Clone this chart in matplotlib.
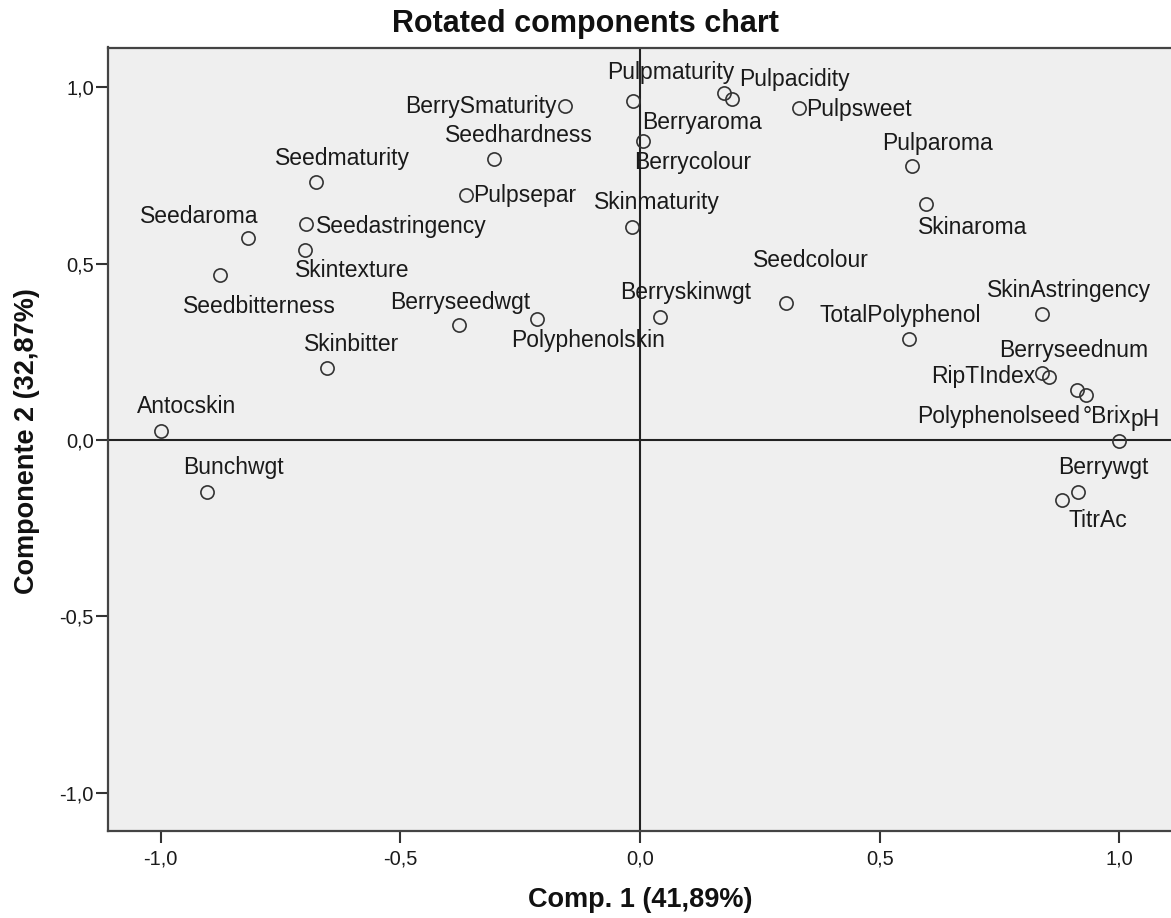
import matplotlib
matplotlib.use("Agg")
import matplotlib.pyplot as plt

plt.rcParams['font.family'] = ['Liberation Sans', 'DejaVu Sans']

# component loadings
labels = ["BerrySmaturity", "Pulpmaturity", "Pulpacidity", "Berryaroma", "Pulpsweet",
          "Berrycolour", "Seedhardness", "Pulparoma", "Seedmaturity", "Pulpsepar",
          "Skinaroma", "Skinmaturity", "Seedastringency", "Seedaroma", "Skintexture",
          "Seedbitterness", "Berryseedwgt", "Polyphenolskin", "Berryskinwgt", "Seedcolour",
          "TotalPolyphenol", "SkinAstringency", "Skinbitter", "Berryseednum", "RipTIndex",
          "Polyphenolseed", "°Brix", "pH", "Berrywgt", "TitrAc", "Antocskin", "Bunchwgt"]
comp1 = [-0.156, -0.015, 0.176, 0.191, 0.332,
         0.006, -0.304, 0.567, -0.676, -0.363,
         0.596, -0.017, -0.697, -0.818, -0.699,
         -0.876, -0.377, -0.215, 0.042, 0.304,
         0.561, 0.838, -0.653, 0.839, 0.854,
         0.911, 0.930, 0.999, 0.913, 0.880, -0.999, -0.903]
comp2 = [0.947, 0.962, 0.983, 0.967, 0.941,
         0.848, 0.797, 0.777, 0.731, 0.695,
         0.669, 0.604, 0.612, 0.573, 0.539,
         0.468, 0.326, 0.343, 0.349, 0.388,
         0.286, 0.357, 0.204, 0.189, 0.179,
         0.142, 0.128, -0.003, -0.147, -0.170, 0.026, -0.147]

tick_values = [-1.0, -0.5, 0.0, 0.5, 1.0]
tick_labels = ["-1,0", "-0,5", "0,0", "0,5", "1,0"]

# label placement (pixel offsets from the point, y up) and alignment
label_pos = {
    "BerrySmaturity": (-9, 0, 'right'),
    "Pulpmaturity": (38, 28, 'center'),
    "Pulpacidity": (70, 14, 'center'),
    "Berryaroma": (-30, -24, 'center'),
    "Pulpsweet": (7, -1, 'left'),
    "Berrycolour": (50, -22, 'center'),
    "Seedhardness": (25, 23, 'center'),
    "Pulparoma": (26, 23, 'center'),
    "Seedmaturity": (26, 24, 'center'),
    "Pulpsepar": (7, -1, 'left'),
    "Skinaroma": (47, -23, 'center'),
    "Skinmaturity": (25, 25, 'center'),
    "Seedastringency": (10, -2, 'left'),
    "Seedaroma": (-49, 21, 'center'),
    "Skintexture": (47, -21, 'center'),
    "Seedbitterness": (39, -32, 'center'),
    "Berryseedwgt": (1, 23, 'center'),
    "Polyphenolskin": (51, -21, 'center'),
    "Berryskinwgt": (25, 24, 'center'),
    "Seedcolour": (25, 43, 'center'),
    "TotalPolyphenol": (-9, 24, 'center'),
    "SkinAstringency": (27, 24, 'center'),
    "Skinbitter": (25, 24, 'center'),
    "Berryseednum": (32, 23, 'center'),
    "RipTIndex": (-14, 0, 'right'),
    "Polyphenolseed": (-78, -27, 'center'),
    "°Brix": (21, -22, 'center'),
    "pH": (26, 22, 'center'),
    "Berrywgt": (26, 24, 'center'),
    "TitrAc": (36, -20, 'center'),
    "Antocskin": (25, 24, 'center'),
    "Bunchwgt": (26, 24, 'center'),
}

W, H = 1171, 918
fig = plt.figure(figsize=(W / 100, H / 100), dpi=100)
ax = fig.add_axes([108 / W, 1 - 830.5 / H, (1172 - 108) / W, (830.5 - 47.5) / H])
ax.set_facecolor('#efefef')

ax.axhline(0, color='#222222', lw=1.5, zorder=1)
ax.axvline(0, color='#222222', lw=1.5, zorder=1)

ax.plot(comp1, comp2, 'o', ms=9.5, mfc='none', mec='#333333', mew=1.2, zorder=3)

for name, x, y in zip(labels, comp1, comp2):
    dx, dy, ha = label_pos[name]
    ax.annotate(name, (x, y), xytext=(dx, dy), textcoords='offset pixels',
                ha=ha, va='center', fontsize=16.5, color='#1a1a1a', zorder=4)

ax.set_xlim(-1.11, 1.11)
ax.set_ylim(-1.107, 1.113)
ax.set_xticks(tick_values)
ax.set_xticklabels(tick_labels)
ax.set_yticks(tick_values)
ax.set_yticklabels(tick_labels)
ax.tick_params(direction='out', length=8.6, width=1.5, color='#333333',
               labelsize=14.5, labelcolor='#1a1a1a')
ax.tick_params(axis='y', pad=1.5)
ax.tick_params(axis='x', pad=5)
ax.spines['right'].set_visible(False)
for side in ['left', 'bottom', 'top']:
    ax.spines[side].set_color('#444444')
    ax.spines[side].set_linewidth(1.6)

fig.text(585 / W, 1 - 24 / H, 'Rotated components chart', ha='center', va='center',
         fontsize=22, fontweight='bold', color='#111111')
fig.text(640 / W, 1 - 900 / H, 'Comp. 1 (41,89%)', ha='center', va='center',
         fontsize=19.5, fontweight='bold', color='#111111')
fig.text(27 / W, 1 - 441 / H, 'Componente 2 (32,87%)', ha='center', va='center',
         rotation=90, fontsize=19.5, fontweight='bold', color='#111111')

fig.savefig('out.png', dpi=100)
